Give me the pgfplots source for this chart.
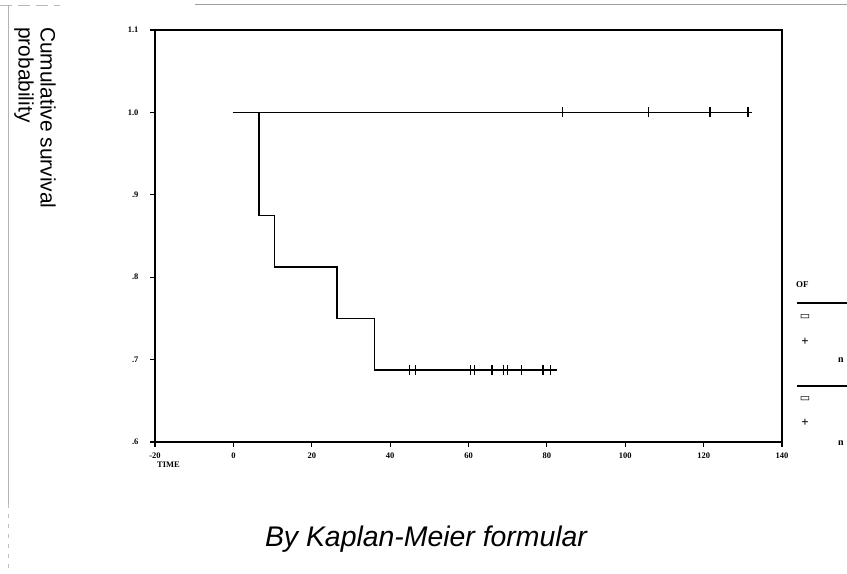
\documentclass[border=0pt]{standalone}
\usepackage{fontspec}
\setmainfont{Liberation Sans}
\newfontfamily\tickfont{Liberation Serif}
\newfontfamily\symfont{DejaVu Sans}
\usepackage{pgfplots}
\pgfplotsset{compat=1.18}
\begin{document}
\begin{tikzpicture}[x=1bp,y=1bp]
\path[use as bounding box] (0,0) rectangle (847,574);
% faint scan border
\draw[gray!55, line width=0.8bp, dash pattern=on 12bp off 6bp] (0,569) -- (60,569);
\draw[gray!75, line width=1bp] (195,569) -- (847,569);
\draw[gray!60, line width=0.8bp] (8,569) -- (8,70);
\draw[gray!50, line width=0.8bp, dash pattern=on 4bp off 6bp] (8,70) -- (8,0);
\begin{axis}[
  at={(155bp,132bp)}, anchor=south west,
  width=627bp, height=412bp, scale only axis,
  xmin=-20, xmax=140, ymin=0.6, ymax=1.1,
  xtick={-20,0,20,40,60,80,100,120,140},
  xticklabels={-20,0,20,40,60,80,100,120,140},
  ytick={0.6,0.7,0.8,0.9,1.0,1.1},
  yticklabels={.6,.7,.8,.9,1.0,1.1},
  tick align=outside, major tick length=5bp,
  xtick pos=bottom, ytick pos=left,
  axis line style={line width=1.5bp},
  tick style={line width=1.2bp, black},
  ticklabel style={font=\tickfont\bfseries\fontsize{8.5}{9}\selectfont},
  xticklabel style={yshift=-2bp},
  yticklabel style={xshift=-8bp},
  clip=false,
]
% Group 1: no events
\addplot[const plot, line width=1.6bp, black] coordinates {(0,1.0) (132.3,1.0)};
\addplot[only marks, mark=|, mark size=5bp, mark options={line width=1.3bp, black}] coordinates {(84,1.0) (106,1.0) (121.6,1.0) (131.3,1.0)};
% Group 2: Kaplan-Meier steps
\addplot[const plot, line width=1.6bp, black] coordinates {(0,1.0) (6.5,0.875) (10.5,0.8125) (26.5,0.75) (36,0.6875) (82.5,0.6875)};
\addplot[only marks, mark=|, mark size=5bp, mark options={line width=1.3bp, black}] coordinates {(45,0.6875) (46.5,0.6875) (60.5,0.6875) (61.5,0.6875) (66,0.6875) (69,0.6875) (70,0.6875) (73.5,0.6875) (79,0.6875) (81,0.6875)};
\end{axis}
% y label
\node[rotate=-90, anchor=north west, align=left, inner sep=0pt,
      font=\fontsize{21}{22}\selectfont] at (56,547) {Cumulative survival\\probability};
% x label
\node[anchor=west, inner sep=0pt, font=\tickfont\bfseries\fontsize{8.5}{9}\selectfont] at (157,109) {TIME};
% title
\node[anchor=base, inner sep=0pt, font=\itshape\fontsize{28.5}{30}\selectfont] at (426,27) {By Kaplan-Meier formular};
% truncated legend at right
\node[anchor=west, inner sep=0pt, font=\tickfont\bfseries\fontsize{9}{9}\selectfont] at (796,289) {OF};
\draw[line width=1.2bp] (797,271) -- (847,271);
\node[inner sep=0pt, font=\symfont\bfseries\fontsize{11}{11}\selectfont] at (805,257) {▭};
\node[inner sep=0pt, font=\tickfont\bfseries\fontsize{13}{13}\selectfont] at (805,232) {+};
\node[anchor=west, inner sep=0pt, font=\tickfont\bfseries\fontsize{10}{10}\selectfont] at (838,214) {n};
\draw[line width=1.2bp] (797,188) -- (847,188);
\node[inner sep=0pt, font=\symfont\bfseries\fontsize{11}{11}\selectfont] at (805,175) {▭};
\node[inner sep=0pt, font=\tickfont\bfseries\fontsize{13}{13}\selectfont] at (805,151) {+};
\node[anchor=west, inner sep=0pt, font=\tickfont\bfseries\fontsize{10}{10}\selectfont] at (838,131) {n};
\end{tikzpicture}
\end{document}
